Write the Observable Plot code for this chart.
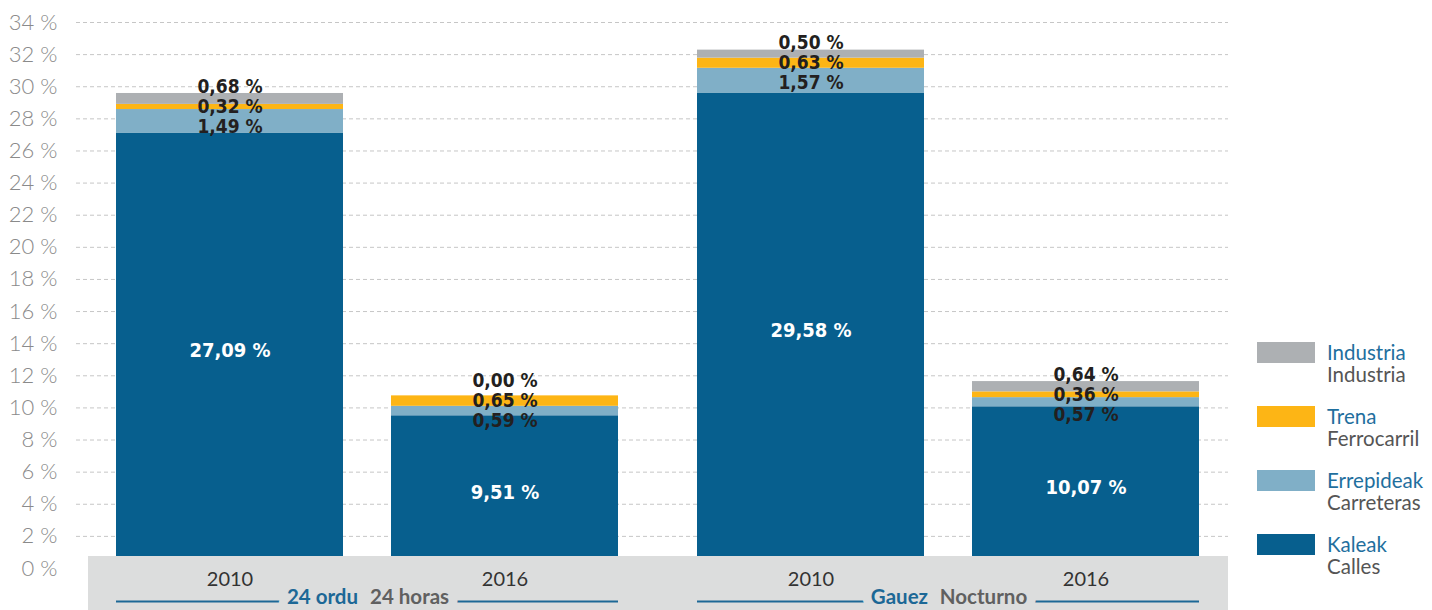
<!DOCTYPE html>
<html>
<head>
<meta charset="utf-8">
<script src="https://cdn.jsdelivr.net/npm/d3@7"></script>
<script src="https://cdn.jsdelivr.net/npm/@observablehq/plot@0.6"></script>
<style>
  body { margin: 0; background: #fff; }
  #wrap { position: relative; width: 1432px; height: 610px; overflow: hidden; font-family: Lato, "Open Sans", sans-serif; }
  #wrap svg { position: absolute; left: 0; top: 0; }
  .leg { position: absolute; left: 1257px; display: flex; align-items: flex-start; }
  .leg .sw { width: 58px; height: 21px; margin-top: 1px; }
  .leg .tx { margin-left: 12px; font-size: 20.5px; line-height: 22px; }
  .leg .eu { color: #1f6f9e; }
  .leg .es { color: #555; }
</style>
</head>
<body>
<div id="wrap"></div>
<script>
// ---- data ----
const groups = ["24h", "Nocturno"];
const groupEu = ["24 ordu", "Gauez"];
const groupEs = ["24 horas", "Nocturno"];
const years = ["2010", "2016"];
const categories = ["Kaleak", "Errepideak", "Trena", "Industria"];
const categoriesEs = ["Calles", "Carreteras", "Ferrocarril", "Industria"];
const colors = ["#075f8e", "#80afc7", "#fdb515", "#adb0b3"];
// order: 24h-2010, 24h-2016, Nocturno-2010, Nocturno-2016
const kaleak     = [27.09, 9.51, 29.58, 10.07];
const errepideak = [1.49, 0.59, 1.57, 0.57];
const trena      = [0.32, 0.65, 0.63, 0.36];
const industria  = [0.68, 0.00, 0.50, 0.64];
const yTicks = [0, 2, 4, 6, 8, 10, 12, 14, 16, 18, 20, 22, 24, 26, 28, 30, 32, 34];

// ---- tables ----
const fmt = v => v.toFixed(2).replace(".", ",") + " %";
const bars = [];
groups.forEach((g, gi) => years.forEach((yr, yi) => {
  const i = gi * 2 + yi;
  bars.push({group: g, year: yr, k: kaleak[i], e: errepideak[i], t: trena[i], ind: industria[i]});
}));
const long = bars.flatMap(b => categories.map((c, ci) => ({group: b.group, year: b.year, cat: c, value: [b.k, b.e, b.t, b.ind][ci]})));
const groupRows = groups.map((g, gi) => ({group: g, label: groupEu[gi] + "|" + groupEs[gi]}));
const gridTicks = yTicks.filter(t => t > 0);

const condensed = "'Liberation Sans Narrow', 'DejaVu Sans Condensed', 'Roboto Condensed', sans-serif";
const blue = "#1c6896";
const bandColor = "#dcdddd";
const labelDark = "#231f20";
const gridStyle = {stroke: "#c6c6c6", strokeDasharray: "4,3", strokeWidth: 1};
const smallLabel = {fill: labelDark, fontSize: 19, fontWeight: "bold", fontFamily: condensed};

const plot = Plot.plot({
  width: 1432,
  height: 610,
  marginLeft: 88,
  marginRight: 204,
  marginTop: 22,
  marginBottom: 42,
  style: {fontFamily: "Lato, 'Open Sans', sans-serif", background: "transparent", overflow: "visible"},
  fx: {domain: groups, paddingInner: 0.0379, paddingOuter: 0, axis: null, label: null},
  x: {domain: years, paddingInner: 0.1745, paddingOuter: 0.1036, label: null},
  y: {domain: [0, 34], label: null},
  color: {domain: categories, range: colors},
  marks: [
    Plot.ruleY(gridTicks, {y: d => d, fx: () => groups[0], insetLeft: -12, insetRight: -11, ...gridStyle}),
    Plot.ruleY(gridTicks, {y: d => d, fx: () => groups[1], insetLeft: -11, insetRight: 0, ...gridStyle}),
    Plot.axisY({ticks: yTicks, tickFormat: d => `${d} %`, tickSize: 0, tickPadding: 31, fontSize: 22, fill: "#8a8a8a", fontWeight: 300, label: null}),
    Plot.barY(long, {fx: "group", x: "year", y: "value", fill: "cat", order: categories}),
    Plot.ruleY(groupRows, {fx: "group", x1: () => years[0], x2: () => years[1], y: () => 0, dy: 33, stroke: blue, strokeWidth: 2}),
    Plot.text(groupRows, {fx: "group", text: "label", frameAnchor: "bottom", dy: 35, fontSize: 20.5, fontWeight: "bold", fill: blue,
      stroke: bandColor, strokeWidth: 18, paintOrder: "stroke", strokeLinejoin: "round"}),
    Plot.axisX({tickSize: 0, tickPadding: 3, fontSize: 20, fill: "#333", label: null}),
    Plot.text(bars, {fx: "group", x: "year", y: d => d.k / 2, text: d => fmt(d.k), fill: "white", fontSize: 20, fontWeight: "bold", fontFamily: condensed}),
    Plot.text(bars, {fx: "group", x: "year", y: d => d.k + d.e + d.t / 2, dy: 20, text: d => fmt(d.e), ...smallLabel}),
    Plot.text(bars, {fx: "group", x: "year", y: d => d.k + d.e + d.t / 2, dy: 0, text: d => fmt(d.t), ...smallLabel}),
    Plot.text(bars, {fx: "group", x: "year", y: d => d.k + d.e + d.t / 2, dy: -20, text: d => fmt(d.ind), ...smallLabel})
  ]
});

const wrap = document.getElementById("wrap");
wrap.appendChild(plot);

// grey band below the bars (covers bar bases like in the original)
const svg = d3.select(plot);
const fxScale = plot.scale("fx");
const yScale = plot.scale("y");
const barG = svg.select('g[aria-label="bar"]').node();
if (barG) {
  const y0 = yScale.apply(0) - 12;
  const rect = document.createElementNS("http://www.w3.org/2000/svg", "rect");
  rect.setAttribute("x", fxScale.range[0]);
  rect.setAttribute("width", fxScale.range[1] - fxScale.range[0]);
  rect.setAttribute("y", y0);
  rect.setAttribute("height", 610 - y0);
  rect.setAttribute("fill", bandColor);
  barG.parentNode.insertBefore(rect, barG.nextSibling);
}

// two-tone group labels
svg.selectAll("text").each(function() {
  const t = d3.select(this);
  const s = t.text();
  if (s.indexOf("|") < 0) return;
  const [eu, es] = s.split("|");
  t.text(null);
  t.append("tspan").attr("fill", blue).text(eu);
  t.append("tspan").attr("fill", "#606060").attr("dx", 12).text(es);
});

// legend
const legendOrder = [3, 2, 1, 0];
legendOrder.forEach((ci, k) => {
  const item = document.createElement("div");
  item.className = "leg";
  item.style.top = (341 + 64 * k) + "px";
  const sw = document.createElement("div");
  sw.className = "sw";
  sw.style.background = colors[ci];
  const tx = document.createElement("div");
  tx.className = "tx";
  const eu = document.createElement("div"); eu.className = "eu"; eu.textContent = categories[ci];
  const es = document.createElement("div"); es.className = "es"; es.textContent = categoriesEs[ci];
  tx.appendChild(eu); tx.appendChild(es);
  item.appendChild(sw); item.appendChild(tx);
  wrap.appendChild(item);
});
</script>
</body>
</html>
